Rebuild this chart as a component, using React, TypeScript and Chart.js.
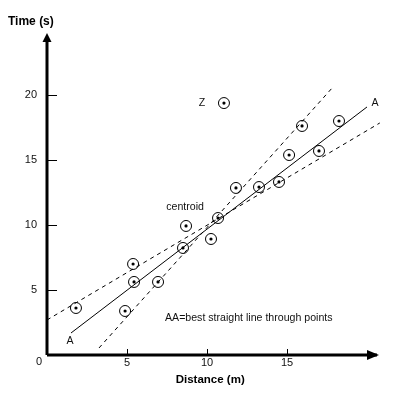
import React, { useEffect, useRef } from "react";
import { Chart, registerables } from "chart.js";
Chart.register(...registerables);

// Measured points (distance m, time s)
const pointX = [1.81, 4.88, 5.38, 5.44, 6.94, 8.5, 8.69, 10.25, 10.69, 11.81, 13.25, 14.5, 15.13, 15.94, 17.0, 18.25, 11.06];
const pointY = [3.61, 3.38, 6.99, 5.61, 5.61, 8.22, 9.91, 8.91, 10.52, 12.83, 12.9, 13.29, 15.36, 17.59, 15.67, 17.97, 19.35];

// Best straight line AA and the two limiting lines
const bestX = [1.5, 20];
const bestY = [1.69, 19.05];
const shallowX = [0, 20.8];
const shallowY = [2.69, 17.82];
const steepX = [3.25, 17.875];
const steepY = [0.54, 20.58];

const xTicks = [5, 10, 15];
const yTicks = [5, 10, 15, 20];
const xMax = 21;
const yMax = 24.5;

const labelText = ["Z", "A", "A", "centroid", "AA=best straight line through points"];
const labelX = [9.69, 20.5, 1.44, 8.63, 7.375];
const labelY = [19.35, 19.35, 1.08, 11.37, 2.84];
const labelAlign: CanvasTextAlign[] = ["center", "center", "center", "center", "left"];

const xTitle = "Distance (m)";
const yTitle = "Time (s)";

const FONT = "'Liberation Sans', Arial, sans-serif";

const toPts = (xs: number[], ys: number[]) => xs.map((x, i) => ({ x, y: ys[i] }));

const axesPlugin = {
  id: "axesPlugin",
  afterDraw(chart: any) {
    const ctx = chart.ctx as CanvasRenderingContext2D;
    const xs = chart.scales.x;
    const ys = chart.scales.y;
    const x0 = xs.getPixelForValue(0);
    const y0 = ys.getPixelForValue(0);
    ctx.save();
    ctx.strokeStyle = "#000";
    ctx.fillStyle = "#000";
    // axes
    ctx.lineWidth = 3;
    ctx.beginPath();
    ctx.moveTo(x0, y0);
    ctx.lineTo(chart.chartArea.right - 6, y0);
    ctx.moveTo(x0, y0);
    ctx.lineTo(x0, chart.chartArea.top + 4);
    ctx.stroke();
    // arrowheads
    ctx.beginPath();
    const xr = chart.chartArea.right - 4;
    ctx.moveTo(xr, y0);
    ctx.lineTo(xr - 12, y0 - 5);
    ctx.lineTo(xr - 12, y0 + 5);
    ctx.closePath();
    ctx.fill();
    ctx.beginPath();
    const yt = chart.chartArea.top - 3;
    ctx.moveTo(x0, yt);
    ctx.lineTo(x0 - 4.5, yt + 9);
    ctx.lineTo(x0 + 4.5, yt + 9);
    ctx.closePath();
    ctx.fill();
    // ticks
    ctx.lineWidth = 1;
    ctx.beginPath();
    yTicks.forEach((v) => {
      const p = Math.round(ys.getPixelForValue(v)) + 0.5;
      ctx.moveTo(x0, p);
      ctx.lineTo(x0 + 10, p);
    });
    xTicks.forEach((v) => {
      const p = Math.round(xs.getPixelForValue(v)) + 0.5;
      ctx.moveTo(p, y0);
      ctx.lineTo(p, y0 - 6);
    });
    ctx.stroke();
    // tick labels
    ctx.fillStyle = "#111";
    ctx.font = `11px ${FONT}`;
    ctx.textBaseline = "middle";
    ctx.textAlign = "right";
    yTicks.forEach((v) => {
      ctx.fillText(String(v), x0 - 10, ys.getPixelForValue(v));
    });
    ctx.textAlign = "center";
    xTicks.forEach((v) => {
      ctx.fillText(String(v), xs.getPixelForValue(v), y0 + 8);
    });
    ctx.fillText("0", x0 - 8, y0 + 7);
    // titles
    ctx.fillStyle = "#000";
    ctx.font = `bold 12px ${FONT}`;
    ctx.textAlign = "left";
    ctx.fillText(yTitle, 8, 22);
    ctx.font = `bold 11.5px ${FONT}`;
    ctx.textAlign = "center";
    ctx.fillText(xTitle, xs.getPixelForValue(10.2), y0 + 25);
    // annotations
    ctx.font = `10.6px ${FONT}`;
    ctx.fillStyle = "#111";
    labelText.forEach((t, i) => {
      ctx.textAlign = labelAlign[i];
      ctx.fillText(t, xs.getPixelForValue(labelX[i]), ys.getPixelForValue(labelY[i]));
    });
    ctx.restore();
  },
};

export default function App() {
  const ref = useRef<HTMLCanvasElement | null>(null);
  useEffect(() => {
    document.body.style.margin = "0";
    if (!ref.current) return;
    const lineDs = (xs: number[], ys: number[], dash: number[]) => ({
      type: "line" as const,
      data: toPts(xs, ys),
      borderColor: "#000",
      borderWidth: 1,
      borderDash: dash,
      pointRadius: 0,
      fill: false,
      clip: false as any,
      order: 3,
    });
    const chart = new Chart(ref.current, {
      type: "scatter",
      data: {
        datasets: [
          {
            data: toPts(pointX, pointY),
            pointRadius: 5.5,
            pointBorderColor: "#000",
            pointBackgroundColor: "rgba(255,255,255,0)",
            pointBorderWidth: 1,
            order: 2,
          } as any,
          {
            data: toPts(pointX, pointY),
            pointRadius: 1.6,
            pointBorderColor: "#000",
            pointBackgroundColor: "#000",
            pointBorderWidth: 0,
            order: 1,
          } as any,
          lineDs(bestX, bestY, []),
          lineDs(shallowX, shallowY, [4, 4]),
          lineDs(steepX, steepY, [4, 4]),
        ],
      },
      options: {
        responsive: false,
        animation: false,
        layout: { padding: { left: 47, right: 11, top: 36, bottom: 41 } },
        plugins: { legend: { display: false }, tooltip: { enabled: false } },
        scales: {
          x: { type: "linear", min: 0, max: xMax, display: false },
          y: { type: "linear", min: 0, max: yMax, display: false },
        },
      },
      plugins: [axesPlugin],
    });
    return () => chart.destroy();
  }, []);
  return (
    <div style={{ width: 394, height: 396, background: "#fff" }}>
      <canvas ref={ref} width={394} height={396} />
    </div>
  );
}
